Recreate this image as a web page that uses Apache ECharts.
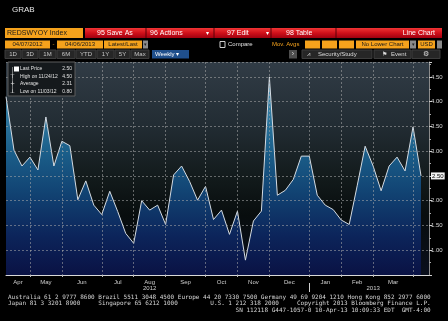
<!DOCTYPE html>
<html><head><meta charset="utf-8">
<script src="https://cdn.jsdelivr.net/npm/echarts@6/dist/echarts.min.js"></script>
<style>html,body{margin:0;padding:0;background:#000;}#c{width:448px;height:321px;}</style>
</head><body><div id="c"></div>
<script>
// ---- data ----
const weeks = ['2012-04-07','2012-04-14','2012-04-21','2012-04-28','2012-05-05','2012-05-12','2012-05-19','2012-05-26',
  '2012-06-02','2012-06-09','2012-06-16','2012-06-23','2012-06-30','2012-07-07','2012-07-14','2012-07-21','2012-07-28',
  '2012-08-04','2012-08-11','2012-08-18','2012-08-25','2012-09-01','2012-09-08','2012-09-15','2012-09-22','2012-09-29',
  '2012-10-06','2012-10-13','2012-10-20','2012-10-27','2012-11-03','2012-11-10','2012-11-17','2012-11-24',
  '2012-12-01','2012-12-08','2012-12-15','2012-12-22','2012-12-29','2013-01-05','2013-01-12','2013-01-19','2013-01-26',
  '2013-02-02','2013-02-09','2013-02-16','2013-02-23','2013-03-02','2013-03-09','2013-03-16','2013-03-23','2013-03-30',
  '2013-04-06','2013-04-13'];
const values = [4.10,3.02,2.70,2.88,2.62,3.69,2.70,3.20,3.11,2.02,
  2.40,1.91,1.72,2.19,1.78,1.34,1.14,2.00,1.81,1.91,
  1.52,2.52,2.70,2.39,2.01,2.29,1.62,1.81,1.32,1.79,
  0.80,1.59,1.79,4.50,2.11,2.21,2.43,2.90,2.90,2.11,
  1.91,1.82,1.61,1.52,2.30,3.10,2.70,2.20,2.70,2.88,
  2.60,3.49,2.50];
const monthAbbr = ['Jan','Feb','Mar','Apr','May','Jun','Jul','Aug','Sep','Oct','Nov','Dec'];
const yearLabels = ['2012','2013'];
const yearAnchors = ['2012-08-11','2013-02-23'];
const legendLabels = ['Last Price','High on 11/24/12','Average','Low on 11/03/12'];
const legendValues = ['2.50','4.50','2.31','0.80'];
const legendIcons = ['','\u22A4','+','\u22A5'];
const lastPrice = 2.50;
const footerLines = [
  'Australia 61 2 9777 8600 Brazil 5511 3048 4500 Europe 44 20 7330 7500 Germany 49 69 9204 1210 Hong Kong 852 2977 6000',
  'Japan 81 3 3201 8900     Singapore 65 6212 1000         U.S. 1 212 318 2000     Copyright 2013 Bloomberg Finance L.P.',
  '                                                               SN 112118 G447-1057-0 10-Apr-13 10:09:33 EDT  GMT-4:00'
];

// ---- derived axis helpers ----
const mon = d => d.slice(0,7);
const monthEnds = weeks.map((d,i)=>i).filter(i => i < weeks.length-1 && mon(weeks[i]) !== mon(weeks[i+1]));
const monthEndSet = new Set(monthEnds);
const halfLabels = {};
monthEnds.forEach((e,k) => {
  const prev = k === 0 ? 0 : monthEnds[k-1];
  halfLabels[prev + e] = monthAbbr[parseInt(weeks[e].slice(5,7),10)-1];
});
const halfSteps = Array.from({length:(weeks.length-1)*2+1}, (_,k)=>String(k));
const yearBreaks = new Set(weeks.map((d,i)=>i).filter(i => i < weeks.length-1 && weeks[i].slice(0,4) !== weeks[i+1].slice(0,4)));

const chart = echarts.init(document.getElementById('c'), null, {renderer:'canvas'});
const G = echarts.graphic;
const ORANGE = '#f5a21c';
const UI = '"Liberation Sans", Arial, sans-serif';
const els = [];
function rect(x,y,w,h,fill,stroke){ els.push({type:'rect', z:10, shape:{x,y,width:w,height:h}, style:{fill, stroke: stroke||null, lineWidth: stroke?1:0}}); }
function txt(x,y,text,fill,size,align,font){ els.push({type:'text', z:11, x, y, style:{text, fill, font: size+'px '+(font||UI), align: align||'left', textAlign: align||'left', verticalAlign:'middle', textVerticalAlign:'middle'}}); }

// title
txt(12,10,'GRAB','#e6e6e6',8);
// row 1
rect(5,28,78,10,ORANGE); txt(7,33,'REDSWYOY Index','#1a1a1a',7);
rect(85,28,357,10,new G.LinearGradient(0,0,0,1,[{offset:0,color:'#f03434'},{offset:0.5,color:'#d0101a'},{offset:1,color:'#a00010'}]));
[146,214,271,336].forEach(x=>els.push({type:'line', z:11, shape:{x1:x,y1:28,x2:x,y2:38}, style:{stroke:'#5a0008', lineWidth:1}}));
txt(97,33,'95 Save As','#fff',7); txt(150,33,'96 Actions','#fff',7); txt(206,33,'\u25BE','#fff',6);
txt(227,33,'97 Edit','#fff',7); txt(266,33,'\u25BE','#fff',6); txt(286,33,'98 Table','#fff',7);
txt(435,33,'Line Chart','#fff',7,'right');
// row 2
rect(5,40.5,45,8,ORANGE); txt(27.5,44.5,'04/07/2012','#1a1a1a',6,'center');
txt(53.5,44.5,'-',ORANGE,6,'center');
rect(57,40.5,46,8,ORANGE); txt(80,44.5,'04/06/2013','#1a1a1a',6,'center');
rect(104,40.5,38,8,ORANGE); txt(123,44.5,'Latest/Last','#1a1a1a',6,'center');
rect(143,40.5,5,8,'#8a8a8a'); txt(145.5,44.5,'\u25BE','#222',5,'center');
rect(220,41.5,5,6,null,'#cfcfcf'); txt(228,44.5,'Compare','#e0e0e0',6);
txt(272,44.5,'Mov. Avgs',ORANGE,6);
rect(305,40.5,15,8,ORANGE); rect(322,40.5,15,8,ORANGE); rect(339,40.5,15,8,ORANGE);
rect(356,40.5,53,8,ORANGE); txt(382.5,44.5,'No Lower Chart','#1a1a1a',6,'center');
rect(410,40.5,6,8,'#8a8a8a'); txt(413,44.5,'\u25BE','#222',5,'center');
rect(418,40.5,17,8,ORANGE); txt(426.5,44.5,'USD','#1a1a1a',6,'center');
rect(437,40.5,5,8,'#8a8a8a');
// row 3
const btns = [[5,22,'1D'],[22,39,'3D'],[39,57,'1M'],[57,76,'6M'],[76,97,'YTD'],[97,115,'1Y'],[115,131,'5Y'],[131,150,'Max']];
btns.forEach(b=>{ rect(b[0],50,b[1]-b[0]-1,8.5,'#262626','#3c3c3c'); txt((b[0]+b[1]-1)/2,54.5,b[2],'#c8c8c8',6,'center'); });
rect(152,50,37,8.5,'#1f4f8c'); txt(155,54.5,'Weekly \u25BE','#ffffff',6);
rect(289,50,8,8.5,'#4e4e4e'); txt(293,54.5,'\u203A','#ddd',7,'center');
rect(302,50,70,8.5,'#262626','#3c3c3c'); txt(307,54.5,'\u2A58','#ddd',6); txt(318,54.5,'Security/Study','#ddd',6);
rect(374,50,37,8.5,'#262626','#3c3c3c'); txt(382,54.5,'\u2691','#ddd',6); txt(391,54.5,'Event','#ddd',6);
rect(412,50,28,8.5,'#262626','#3c3c3c'); txt(426,54.5,'\u2699','#ddd',7,'center');
// legend box
rect(8,62,67,34,'#15191c','#5c5c5c');
els.push({type:'line', z:11, shape:{x1:12.5,y1:67,x2:12.5,y2:93}, style:{stroke:'#bbb', lineWidth:0.6}});
rect(14,66.5,5,5,'#ffffff');
legendLabels.forEach((l,i)=>{
  const y = 69 + i*7.5;
  if (legendIcons[i]) txt(12.5,y,legendIcons[i],'#e0e0e0',5.5,'center','"DejaVu Sans"');
  txt(20,y,l,'#e0e0e0',5);
  txt(72,y,legendValues[i],'#e0e0e0',5,'right');
});
// footer
footerLines.forEach((l,i)=>txt(8,297+i*6.5,l,'#d6d6d6',6,'left','"DejaVu Sans Mono", monospace'));

const option = {
  backgroundColor:'#000',
  animation:false,
  grid:{left:6,right:19,top:62,bottom:46,show:true,borderWidth:0,containLabel:false,outerBoundsMode:'none',
    backgroundColor:new G.LinearGradient(0,0,0,1,[
      {offset:0,color:'#313c46'},{offset:0.3,color:'#222c33'},{offset:0.55,color:'#121a1b'},
      {offset:0.72,color:'#080d0e'},{offset:1,color:'#0a0f1c'}])},
  xAxis:[
    {type:'category', data:weeks, boundaryGap:false, z:3,
     axisLine:{show:true, lineStyle:{color:'#d8d8d8', width:1}},
     axisTick:{show:true, interval:(i)=>monthEndSet.has(i), length:2, lineStyle:{color:'#bbb'}},
     axisLabel:{show:false},
     splitLine:{show:true, interval:(i)=>monthEndSet.has(i), lineStyle:{color:'rgba(170,170,170,0.55)', type:[2,2], width:1}}},
    {type:'category', data:halfSteps, boundaryGap:false, position:'bottom', z:3,
     axisLine:{show:false}, axisTick:{show:false}, splitLine:{show:false},
     axisLabel:{show:true, interval:(i)=>halfLabels[i]!==undefined, formatter:(v)=>halfLabels[+v]||'',
       color:'#cfcfcf', fontSize:6, fontFamily:'Liberation Sans', margin:4}},
    {type:'category', data:weeks, boundaryGap:false, position:'bottom', offset:8, z:3,
     axisLine:{show:false}, splitLine:{show:false},
     axisTick:{show:true, interval:(i)=>yearBreaks.has(i), length:9, lineStyle:{color:'#cfcfcf'}},
     axisLabel:{show:true, interval:(i,v)=>yearAnchors.includes(v), formatter:(v)=>yearLabels[yearAnchors.indexOf(v)]||'',
       color:'#cfcfcf', fontSize:6, fontFamily:'Liberation Sans', margin:2}}
  ],
  yAxis:{type:'value', position:'right', min:0.5, max:4.8, interval:0.5, z:3,
    axisLine:{show:true, lineStyle:{color:'#8a8a8a'}},
    axisTick:{show:true, length:3, lineStyle:{color:'#cfcfcf'}},
    minorTick:{show:true, splitNumber:2, length:2, lineStyle:{color:'#aaa'}},
    splitLine:{show:true, lineStyle:{color:'rgba(170,170,170,0.55)', type:[2,2], width:1}},
    axisLabel:{show:true, showMinLabel:false, showMaxLabel:false, margin:2, color:'#d8d8d8', fontSize:6, fontFamily:'Liberation Sans',
      formatter:(v)=>Math.abs(v-lastPrice)<1e-9 ? '{last|'+v.toFixed(2)+'}' : v.toFixed(2),
      rich:{last:{backgroundColor:'#f2f2f2', color:'#000', fontSize:6, fontFamily:'Liberation Sans', padding:[1,1,0,1]}}}},
  series:[{type:'line', data:values, xAxisIndex:0, symbol:'none', z:1,
    lineStyle:{color:'#d4dbe2', width:1},
    areaStyle:{opacity:1, color:new G.LinearGradient(0,62,0,275,[
      {offset:0,color:'#6aa6c4'},{offset:0.2,color:'#3580a6'},{offset:0.42,color:'#1b5f8a'},
      {offset:0.62,color:'#114272'},{offset:0.82,color:'#0c245a'},{offset:1,color:'#0a1244'}], true)}}],
  graphic:{elements:els}
};
chart.setOption(option);
</script></body></html>
